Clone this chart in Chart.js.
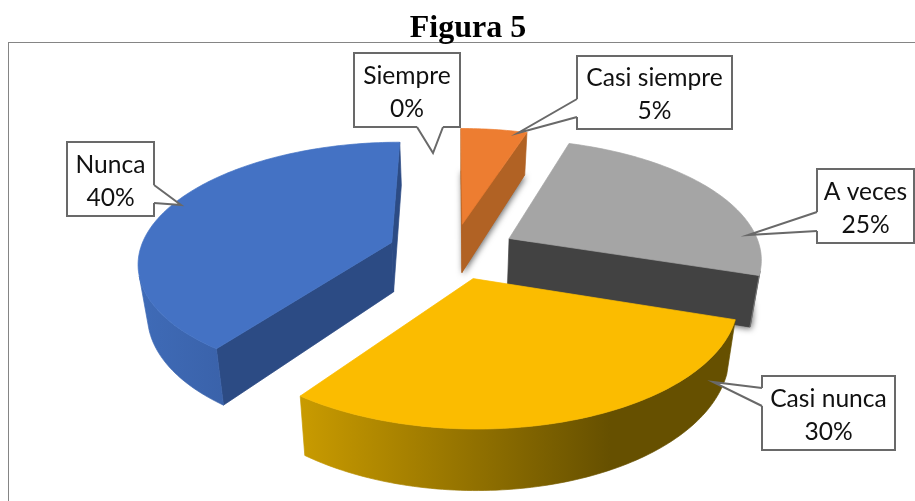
<!DOCTYPE html>
<html>
<head>
<meta charset="utf-8">
<title>Figura 5</title>
<script src="https://cdn.jsdelivr.net/npm/chart.js@4"></script>
<style>
  html, body { margin: 0; padding: 0; background: #fff; overflow: hidden; }
  canvas { display: block; }
</style>
</head>
<body>
<canvas id="pieChart" width="915" height="501"></canvas>
<script>
const categories = ['Siempre', 'Casi siempre', 'A veces', 'Casi nunca', 'Nunca'];
const percentages = [0, 5, 25, 30, 40];
const topColors = ['#5b9bd5', '#ed7d31', '#a5a5a5', '#fbbc00', '#4472c4'];
const wallColors = ['#41719c', '#b16224', '#424242', '#8a6800', '#2c4b84'];
const rimStops = [
    ['#41719c', '#41719c'],
    ['#b16224', '#b16224'],
    ['#8c8c8c', '#6e6e6e'],
    ['#c99b00', '#665000'],
    ['#3f6bb7', '#3a62aa']
];
const rimRange = [[0, 915], [0, 915], [0, 915], [300, 610], [140, 225]];
const castsShadow = [false, true, true, false, false];

// callout boxes, same order as categories: box + the pointer on its edge
const calloutBoxes = [
    { x: 354, y: 53, w: 106, h: 74, base: [[443, 127], [417, 127]], tip: [433, 153] },
    { x: 577, y: 56, w: 155, h: 73, base: [[577, 117], [577, 99]], tip: [518, 133] },
    { x: 817, y: 169, w: 97, h: 74, base: [[817, 231], [817, 212]], tip: [748, 235] },
    { x: 762, y: 376, w: 133, h: 74, base: [[762, 406], [762, 388]], tip: [713, 382] },
    { x: 67, y: 142, w: 87, h: 74, base: [[154, 185], [154, 203]], tip: [181, 205] }
];

// pie plane -> screen (tilted, with a bit of perspective)
const center = { x: 452.5, y: 251 };
const radiusX = 252, radiusY = 118, perspective = 0.153;
const thickness = 50, bottomShrink = 0.03, explodeStretchX = 1.08;

function project(u, v, z) {
    const s = 1 / (1 - perspective * v);
    const k = 1 - bottomShrink * z;
    return {
        x: center.x + radiusX * u * s * k,
        y: center.y + radiusY * v * s + thickness * s * z
    };
}

function pathOf(ctx, pts) {
    ctx.beginPath();
    pts.forEach((p, i) => i ? ctx.lineTo(p.x, p.y) : ctx.moveTo(p.x, p.y));
    ctx.closePath();
}

function paint(ctx, pts, style) {
    pathOf(ctx, pts);
    ctx.fillStyle = style;
    ctx.strokeStyle = style;
    ctx.lineWidth = 0.7;
    ctx.fill();
    ctx.stroke();
}

function signedArea(pts) {
    let sum = 0;
    pts.forEach((p, i) => {
        const q = pts[(i + 1) % pts.length];
        sum += p.x * q.y - q.x * p.y;
    });
    return sum;
}

function drawSlice(ctx, arc, index) {
    const start = arc.startAngle, end = arc.endAngle;
    const mid = (start + end) / 2;
    const off = arc.options.offset / arc.outerRadius;
    const ox = Math.cos(mid) * off * explodeStretchX, oy = Math.sin(mid) * off;

    const steps = Math.max(2, Math.ceil((end - start) / 0.02));
    const plane = [];
    for (let i = 0; i <= steps; i++) {
        const a = start + (end - start) * i / steps;
        plane.push([ox + Math.cos(a), oy + Math.sin(a)]);
    }
    const top = plane.map(p => project(p[0], p[1], 0));
    const bottom = plane.map(p => project(p[0], p[1], 1));
    const apexTop = project(ox, oy, 0);
    const apexBottom = project(ox, oy, 1);

    if (castsShadow[index]) {
        ctx.save();
        ctx.shadowColor = 'rgba(0,0,0,0.6)';
        ctx.shadowBlur = 6;
        ctx.shadowOffsetX = 1;
        ctx.shadowOffsetY = 2;
        pathOf(ctx, [apexBottom].concat(bottom));
        ctx.fillStyle = wallColors[index];
        ctx.fill();
        ctx.restore();
    }

    const walls = [
        [apexTop, top[0], bottom[0], apexBottom],
        [top[steps], apexTop, apexBottom, bottom[steps]]
    ];
    walls.forEach(q => {
        if (signedArea(q) < 0) paint(ctx, q, wallColors[index]);
    });

    // outer rim: one polygon per visible run, so the gradient has no seams
    const grad = ctx.createLinearGradient(rimRange[index][0], 0, rimRange[index][1], 0);
    grad.addColorStop(0, rimStops[index][0]);
    grad.addColorStop(1, rimStops[index][1]);
    let runStart = -1;
    for (let i = 0; i <= steps; i++) {
        const visible = i < steps && signedArea([top[i], top[i + 1], bottom[i + 1], bottom[i]]) < 0;
        if (visible && runStart < 0) runStart = i;
        if (!visible && runStart >= 0) {
            const upper = top.slice(runStart, i + 1);
            const lower = bottom.slice(runStart, i + 1).reverse();
            paint(ctx, upper.concat(lower), grad);
            runStart = -1;
        }
    }

    paint(ctx, [apexTop].concat(top), topColors[index]);
}

function drawCallout(ctx, box, index) {
    const { x, y, w, h, base, tip } = box;
    ctx.beginPath();
    ctx.rect(x, y, w, h);
    ctx.fillStyle = '#fff';
    ctx.fill();
    ctx.strokeStyle = '#696969';
    ctx.lineWidth = 2;
    ctx.stroke();

    // pointer: white inside, covers the box border along its base
    ctx.beginPath();
    ctx.moveTo(base[0][0], base[0][1]);
    ctx.lineTo(tip[0], tip[1]);
    ctx.lineTo(base[1][0], base[1][1]);
    ctx.closePath();
    ctx.fill();
    ctx.beginPath();
    ctx.moveTo(base[0][0], base[0][1]);
    ctx.lineTo(base[1][0], base[1][1]);
    ctx.strokeStyle = '#fff';
    ctx.lineWidth = 3;
    ctx.stroke();
    ctx.beginPath();
    ctx.moveTo(base[0][0], base[0][1]);
    ctx.lineTo(tip[0], tip[1]);
    ctx.lineTo(base[1][0], base[1][1]);
    ctx.strokeStyle = '#696969';
    ctx.lineWidth = 2;
    ctx.stroke();

    ctx.fillStyle = '#111';
    ctx.font = '24.6px Lato';
    ctx.textAlign = 'center';
    ctx.textBaseline = 'middle';
    const cx = x + w / 2;
    ctx.fillText(categories[index], cx, y + h / 2 - 14);
    ctx.fillText(percentages[index] + '%', cx, y + h / 2 + 19);
}

const tiltedPie = {
    id: 'tiltedPie',
    beforeDraw(chart) {
        const ctx = chart.ctx;
        ctx.save();
        ctx.strokeStyle = '#858585';
        ctx.lineWidth = 1;
        ctx.strokeRect(8.5, 42.5, 1000, 1000);
        ctx.restore();
    },
    beforeDatasetDraw(chart, args) {
        const ctx = chart.ctx;
        const arcs = args.meta.data;
        const order = arcs.map((a, i) => i)
            .filter(i => arcs[i].endAngle > arcs[i].startAngle)
            .sort((a, b) => Math.sin((arcs[a].startAngle + arcs[a].endAngle) / 2)
                - Math.sin((arcs[b].startAngle + arcs[b].endAngle) / 2));
        ctx.save();
        order.forEach(i => drawSlice(ctx, arcs[i], i));
        ctx.restore();
        return false;
    },
    afterDraw(chart) {
        const ctx = chart.ctx;
        ctx.save();
        calloutBoxes.forEach((box, i) => drawCallout(ctx, box, i));
        ctx.restore();
    }
};

new Chart(document.getElementById('pieChart'), {
    type: 'pie',
    data: {
        labels: categories,
        datasets: [{
            data: percentages,
            backgroundColor: topColors,
            borderWidth: 0,
            offset: 48
        }]
    },
    options: {
        responsive: false,
        animation: false,
        layout: { padding: { left: 21 } },
        events: [],
        plugins: {
            legend: { display: false },
            tooltip: { enabled: false },
            title: {
                display: true,
                text: 'Figura 5',
                color: '#000',
                font: { family: 'Liberation Serif', size: 32, weight: 'bold' },
                padding: { top: 10, bottom: 0 }
            }
        }
    },
    plugins: [tiltedPie]
});
</script>
</body>
</html>
